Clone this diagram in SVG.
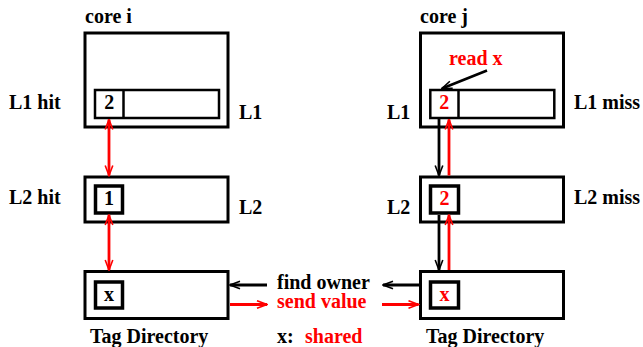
<svg xmlns="http://www.w3.org/2000/svg" width="643" height="347" viewBox="0 0 643 347">
  <style>
    text { font-family: "Liberation Serif", "Times New Roman", serif; font-weight: bold; font-size: 20px; fill: #000; }
    text.red { fill: #ff0000; }
    text.mid { text-anchor: middle; }
    .box { fill: #fff; stroke: #000; stroke-width: 3; }
    .bar { fill: #fff; stroke: #000; stroke-width: 2.5; }
    .cell { fill: #fff; stroke: #000; stroke-width: 3.5; }
    .blk { stroke: #000; stroke-width: 2.8; fill: none; }
    .rd { stroke: #ff0000; stroke-width: 2.8; fill: none; }
  </style>
  <defs>
    <marker id="headK" viewBox="-12 -5 13 10" refX="0" refY="0" markerWidth="13" markerHeight="10" markerUnits="userSpaceOnUse" orient="auto-start-reverse">
      <path d="M-10,-3.8 L0,0 L-10,3.8" fill="none" stroke="#000" stroke-width="1.6"/>
    </marker>
    <marker id="headR" viewBox="-12 -5 13 10" refX="0" refY="0" markerWidth="13" markerHeight="10" markerUnits="userSpaceOnUse" orient="auto-start-reverse">
      <path d="M-10,-3.8 L0,0 L-10,3.8" fill="none" stroke="#ff0000" stroke-width="1.6"/>
    </marker>
  </defs>

  <rect width="643" height="347" fill="#fff"/>

  <!-- core i -->
  <g id="core-i">
    <text x="85" y="23">core i</text>
    <rect class="box" x="85" y="33" width="143" height="94"/>
    <text x="9" y="109">L1 hit</text>
    <text x="239" y="119">L1</text>
  </g>
  <g id="l1-i">
    <rect class="bar" x="95" y="90" width="124" height="28"/>
    <line x1="123.5" y1="90" x2="123.5" y2="118" stroke="#000" stroke-width="2.5"/>
    <text class="mid" x="109.2" y="109">2</text>
  </g>
  <g id="l2-i">
    <rect class="box" x="85" y="177" width="143" height="45"/>
    <rect class="cell" x="95.5" y="186" width="27" height="27"/>
    <text class="mid" x="109" y="205">1</text>
    <text x="9" y="204">L2 hit</text>
    <text x="239" y="214">L2</text>
  </g>
  <g id="tag-i">
    <rect class="box" x="85" y="271.5" width="143" height="47"/>
    <rect class="cell" x="95.5" y="282" width="27" height="26"/>
    <text class="mid" x="109" y="301">x</text>
    <text x="90" y="343">Tag Directory</text>
  </g>

  <!-- core j -->
  <g id="core-j">
    <text x="420" y="23">core j</text>
    <rect class="box" x="420.5" y="33" width="143" height="94"/>
    <text class="red" x="449" y="65">read x</text>
    <text x="387" y="119">L1</text>
    <text x="574" y="109">L1 miss</text>
  </g>
  <g id="l1-j">
    <rect class="bar" x="430.3" y="90" width="124" height="28"/>
    <line x1="458.5" y1="90" x2="458.5" y2="118" stroke="#000" stroke-width="2.5"/>
    <text class="mid red" x="444.3" y="109">2</text>
  </g>
  <g id="l2-j">
    <rect class="box" x="420.5" y="177" width="143" height="45"/>
    <rect class="cell" x="430.5" y="186" width="28" height="27"/>
    <text class="mid red" x="444.5" y="205">2</text>
    <text x="387" y="214">L2</text>
    <text x="574" y="204">L2 miss</text>
  </g>
  <g id="tag-j">
    <rect class="box" x="420.5" y="271.5" width="143" height="47"/>
    <rect class="cell" x="430.5" y="282" width="28" height="26"/>
    <text class="mid red" x="444.5" y="301">x</text>
    <text x="426" y="343">Tag Directory</text>
  </g>

  <!-- messages between the directories -->
  <g id="legend">
    <text x="277" y="289">find owner</text>
    <text class="red" x="277" y="308">send value</text>
    <text x="277" y="343">x:</text>
    <text class="red" x="305" y="343">shared</text>
  </g>

  <g id="connectors">
    <!-- core i: hits travel up and down -->
    <line class="rd" x1="109" y1="119.5" x2="109" y2="175.5" marker-start="url(#headR)" marker-end="url(#headR)"/>
    <line class="rd" x1="109" y1="215" x2="109" y2="270" marker-start="url(#headR)" marker-end="url(#headR)"/>
    <!-- core j: misses go down, value comes back up -->
    <line class="blk" x1="439" y1="119" x2="439" y2="175.5" marker-end="url(#headK)"/>
    <line class="rd" x1="449" y1="175.5" x2="449" y2="119.5" marker-end="url(#headR)"/>
    <line class="blk" x1="439" y1="215" x2="439" y2="270" marker-end="url(#headK)"/>
    <line class="rd" x1="449" y1="270" x2="449" y2="215" marker-end="url(#headR)"/>
    <!-- read x request -->
    <line class="blk" x1="487" y1="70.5" x2="442" y2="88.5" marker-end="url(#headK)"/>
    <!-- directory traffic -->
    <line class="blk" x1="267" y1="285" x2="230" y2="285" marker-end="url(#headK)"/>
    <line class="blk" x1="419" y1="285" x2="383" y2="285" marker-end="url(#headK)"/>
    <line class="rd" x1="230" y1="304.5" x2="267" y2="304.5" marker-end="url(#headR)"/>
    <line class="rd" x1="382" y1="304.5" x2="418.5" y2="304.5" marker-end="url(#headR)"/>
  </g>
</svg>
